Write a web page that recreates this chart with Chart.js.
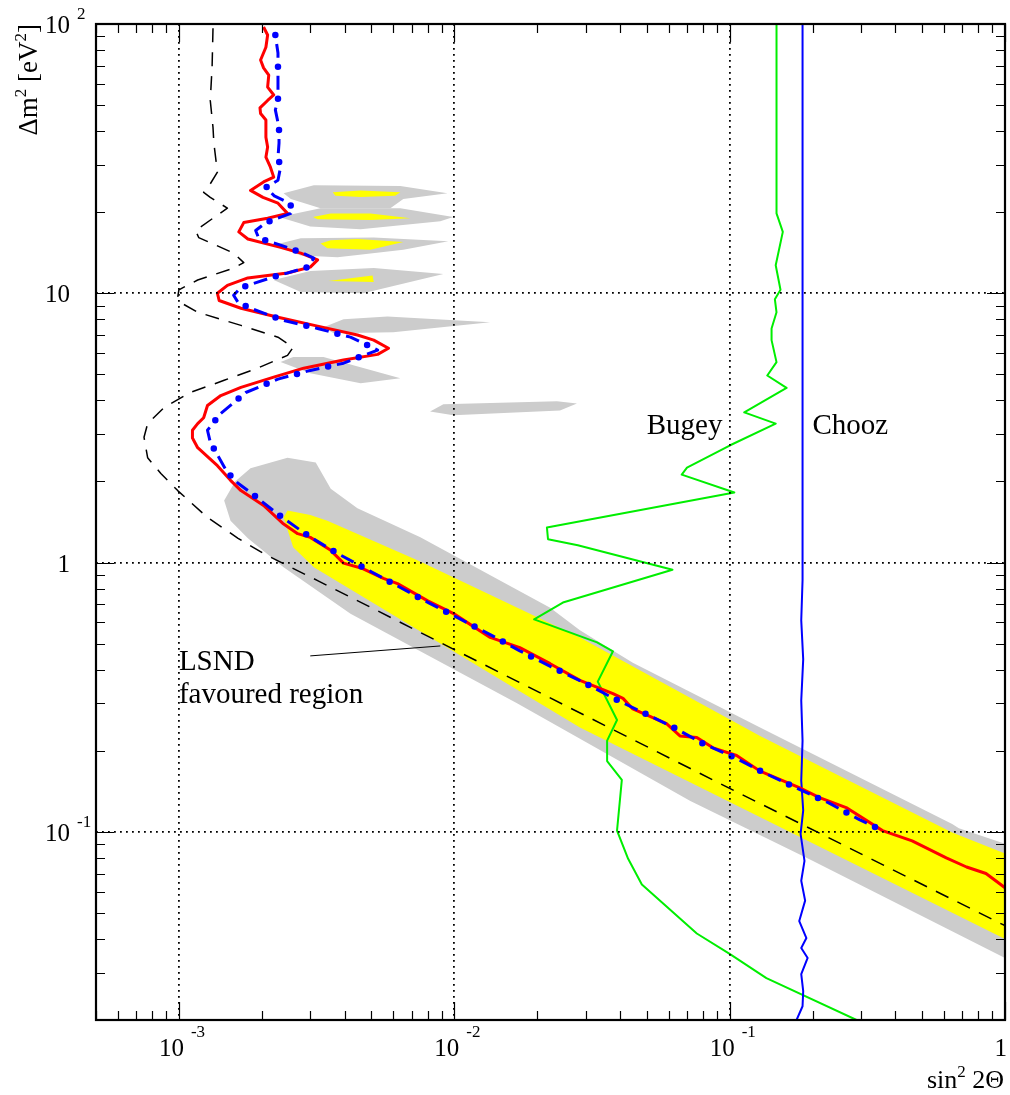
<!DOCTYPE html>
<html lang="en">
<head>
<meta charset="UTF-8">
<title>LSND favoured region vs Bugey / Chooz</title>
<script src="https://cdn.jsdelivr.net/npm/chart.js"></script>
<style>
  body { margin: 0; background: #fff; }
  canvas { display: block; }
</style>
</head>
<body>
<canvas id="plot" width="1010" height="1095"></canvas>
<script>
// [sin^2 2theta, dm^2 (eV^2)] pairs

// LSND favoured region, outer (grey) and inner (yellow) contours
const lsndOuter = [[1.46e-3,1.7],[1.6e-3,2.0],[1.82e-3,2.24],[2.48e-3,2.45],[3.14e-3,2.35],[3.56e-3,1.88],[4.45e-3,1.59],[7.53e-3,1.24],
  [2.23e-2,0.68],[2.86e-2,0.56],[4.45e-2,0.424],[0.129,0.244],[0.643,0.107],[0.68,0.103],[1.0,0.0903],[1.0,0.034],
  [0.2,0.078],[0.072,0.13],[1.69e-2,0.3],[4.2e-3,0.646],[2.4e-3,0.96],[1.78e-3,1.23],[1.54e-3,1.43]];
const lsndInner = [[2.48e-3,1.56],[3.0e-3,1.5],[3.46e-3,1.43],[7.35e-3,1.02],[2.86e-2,0.527],[0.129,0.227],[0.643,0.0995],
  [1.0,0.083],[1.0,0.04],[2.86e-2,0.244],[3.09e-3,0.96],[2.6e-3,1.14],[2.4e-3,1.47]];

// small islands at large dm^2
const islandsOuter = [
  [[2.4e-3,23.5],[3.09e-3,25.2],[6.37e-3,25],[9.45e-3,23.5],[6.53e-3,22.4],[5.86e-3,20.7],[3.27e-3,20.7],[2.55e-3,22.4]],
  [[2.31e-3,19.2],[3.27e-3,20.7],[6.37e-3,20.7],[9.92e-3,19.2],[8.9e-3,18.5],[4.57e-3,17.3],[3.0e-3,17.7]],
  [[2.21e-3,15.1],[2.77e-3,16.0],[5.1e-3,16.1],[9.52e-3,15.6],[6.53e-3,14.5],[3.77e-3,13.6],[2.77e-3,13.8]],
  [[2.21e-3,11.2],[3.0e-3,12.1],[5.1e-3,12.4],[9.13e-3,11.8],[4.67e-3,10.0],[2.77e-3,10.1]],
  [[3.35e-3,7.47],[3.96e-3,8.0],[5.72e-3,8.2],[1.35e-2,7.8],[6.0e-3,7.17],[3.65e-3,7.1]],
  [[2.34e-3,5.55],[2.6e-3,5.8],[3.35e-3,5.8],[6.37e-3,4.83],[4.57e-3,4.63],[3.0e-3,5.05]],
  [[8.17e-3,3.64],[9.13e-3,3.87],[2.36e-2,3.97],[2.79e-2,3.9],[2.42e-2,3.67],[9.92e-3,3.52]]
];
const islandsInner = [
  [[3.62e-3,23.7],[4.57e-3,24.1],[6.37e-3,23.7],[6.1e-3,23.0],[4.57e-3,22.8],[3.7e-3,23.0]],
  [[3.07e-3,19.2],[3.56e-3,19.8],[4.96e-3,19.8],[6.93e-3,19.0],[4.96e-3,18.7],[3.19e-3,18.85]],
  [[3.27e-3,15.3],[3.56e-3,15.75],[4.45e-3,15.9],[6.53e-3,15.5],[4.96e-3,14.5],[3.46e-3,14.7]],
  [[3.49e-3,11.1],[5.05e-3,11.65],[5.1e-3,11.0]]
];

// expected sensitivity (black dashed)
const sensitivity = [[1.33e-3,96.5],[1.32e-3,69.3],[1.3e-3,52],[1.33e-3,41.3],[1.34e-3,36],[1.38e-3,28.2],[1.27e-3,24.5],
  [1.23e-3,23.7],[1.3e-3,22.7],[1.5e-3,20.7],[1.33e-3,19],[1.15e-3,17.1],[1.18e-3,16.1],[1.42e-3,14.8],[1.58e-3,14.1],
  [1.72e-3,13.0],[1.58e-3,12.4],[1.17e-3,11.2],[1.0e-3,10.3],[0.99e-3,9.65],[1.03e-3,9.15],[1.17e-3,8.5],[1.68e-3,7.6],
  [2.29e-3,6.87],[2.6e-3,6.3],[2.48e-3,5.88],[1.93e-3,5.27],[1.46e-3,4.75],[1.1e-3,4.28],[8.85e-4,3.77],[7.7e-4,3.28],
  [7.47e-4,2.92],[7.7e-4,2.45],[8.6e-4,2.14],[9.9e-4,1.85],[1.27e-3,1.47],[1.64e-3,1.23],[2.03e-3,1.08],[2.55e-3,0.96],
  [3.19e-3,0.857],[1.0e-2,0.475],[0.1,0.145],[1.0,0.0448]];

// 90% CL limit (red solid)
const limitRed = [[2.03e-3,97.5],[2.1e-3,91],[2.07e-3,82],[1.98e-3,73.5],[2.03e-3,68.7],[2.12e-3,64.6],[2.1e-3,58.3],
  [2.21e-3,54.5],[2.1e-3,52],[1.97e-3,48.8],[1.98e-3,46.5],[2.07e-3,44],[2.07e-3,38],[2.1e-3,34.9],[2.07e-3,32],
  [2.15e-3,29.4],[2.21e-3,27],[2.03e-3,25.9],[1.82e-3,24.1],[2.02e-3,22.7],[2.29e-3,21.6],[2.48e-3,19.8],[2.1e-3,19],
  [1.72e-3,18.3],[1.65e-3,16.9],[1.78e-3,15.9],[2.34e-3,14.8],[2.77e-3,14.1],[3.19e-3,13.3],[3.0e-3,12.5],[2.48e-3,11.9],
  [1.78e-3,11.4],[1.5e-3,10.7],[1.38e-3,10],[1.4e-3,9.4],[1.68e-3,8.8],[2.29e-3,8.15],[3.19e-3,7.55],[4.45e-3,7.0],
  [5.1e-3,6.7],[5.77e-3,6.25],[5.27e-3,5.93],[3.96e-3,5.65],[2.84e-3,5.27],[2.21e-3,4.88],[1.68e-3,4.47],[1.42e-3,4.17],
  [1.27e-3,3.83],[1.23e-3,3.45],[1.17e-3,3.28],[1.12e-3,3.1],[1.12e-3,2.9],[1.17e-3,2.67],[1.38e-3,2.29],[1.54e-3,2.02],
  [1.68e-3,1.85],[2.03e-3,1.63],[2.38e-3,1.4],[2.7e-3,1.28],[3.0e-3,1.24],[3.56e-3,1.11],[3.96e-3,0.995],[4.65e-3,0.95],
  [5.53e-3,0.873],[6.22e-3,0.835],[7.98e-3,0.722],[9.95e-3,0.646],[1.35e-2,0.527],[1.73e-2,0.483],[2.23e-2,0.421],
  [2.86e-2,0.365],[3.77e-2,0.326],[4.1e-2,0.313],[4.45e-2,0.286],[5.9e-2,0.252],[6.6e-2,0.227],[7.6e-2,0.224],
  [8.7e-2,0.205],[0.106,0.192],[0.129,0.168],[0.179,0.146],[0.212,0.134],[0.265,0.123],[0.359,0.101],[0.46,0.0925],
  [0.612,0.08],[0.725,0.074],[0.853,0.07],[1.0,0.062]];

// second limit (blue dash-dot with dots)
const limitBlue = [[2.24e-3,91],[2.29e-3,78],[2.29e-3,62],[2.29e-3,52],[2.24e-3,48],[2.31e-3,41.3],[2.31e-3,36.1],
  [2.29e-3,32],[2.34e-3,29.4],[2.29e-3,26.3],[2.07e-3,24.7],[2.22e-3,23],[2.48e-3,21.8],[2.6e-3,20.7],[2.55e-3,19.8],
  [2.07e-3,18.3],[1.9e-3,17.1],[1.95e-3,16],[2.34e-3,15.1],[2.77e-3,14.2],[3.09e-3,13.5],[2.94e-3,12.5],[2.21e-3,11.5],
  [1.68e-3,10.5],[1.58e-3,9.83],[1.64e-3,9.25],[1.82e-3,8.8],[2.4e-3,7.93],[3.19e-3,7.4],[4.2e-3,6.87],[5.27e-3,6.15],
  [3.96e-3,5.5],[3.0e-3,5.17],[2.29e-3,4.8],[1.75e-3,4.28],[1.42e-3,3.58],[1.27e-3,3.1],[1.3e-3,2.8],[1.5e-3,2.16],
  [1.64e-3,1.97],[1.86e-3,1.79],[2.31e-3,1.5],[2.94e-3,1.26],[3.77e-3,1.08],[4.85e-3,0.94],[6.27e-3,0.815],[8.05e-3,0.71],
  [1.04e-2,0.62],[1.35e-2,0.54],[1.73e-2,0.47],[2.25e-2,0.41],[2.91e-2,0.361],[3.75e-2,0.315],[4.85e-2,0.277],
  [6.27e-2,0.244],[8.05e-2,0.212],[0.105,0.188],[0.136,0.164],[0.176,0.145],[0.229,0.128],[0.296,0.111],[0.359,0.101]];

// reactor experiments
const bugey = [[0.148,100],[0.148,19.8],[0.156,16.9],[0.147,12.7],[0.153,10.3],[0.146,9.5],[0.148,8.5],[0.142,7.4],
  [0.142,6.7],[0.148,5.55],[0.137,4.95],[0.161,4.45],[0.113,3.61],[0.147,3.28],[0.1,2.72],[7.0e-2,2.25],[6.7e-2,2.12],
  [0.104,1.82],[2.17e-2,1.35],[2.19e-2,1.22],[2.81e-2,1.16],[6.2e-2,0.94],[2.48e-2,0.71],[1.95e-2,0.615],[3.3e-2,0.505],
  [3.77e-2,0.468],[3.32e-2,0.361],[3.9e-2,0.26],[3.59e-2,0.218],[3.59e-2,0.183],[4.06e-2,0.156],[3.9e-2,0.101],
  [4.28e-2,0.0794],[4.8e-2,0.0637],[7.6e-2,0.0419],[0.1,0.0352],[0.136,0.0286],[0.289,0.02]];
const chooz = [[0.184,100],[0.184,0.86],[0.182,0.61],[0.185,0.437],[0.182,0.307],[0.184,0.218],[0.182,0.155],[0.185,0.12],
  [0.181,0.0983],[0.187,0.078],[0.182,0.0658],[0.188,0.0555],[0.179,0.0466],[0.19,0.0403],[0.182,0.037],[0.192,0.034],
  [0.182,0.0296],[0.185,0.0256],[0.184,0.0225],[0.175,0.02]];

// pointer from the "LSND favoured region" label
const lsndPointer = [[3.0e-3,0.45],[8.9e-3,0.49]];

// axes
const xRange = [5e-4, 1];
const yRange = [0.02, 100];
const xTickValues = [1e-3, 1e-2, 1e-1, 1];
const xTickBase = ['10', '10', '10', '1'];
const xTickExp = ['-3', '-2', '-1', ''];
const yTickValues = [0.1, 1, 10, 100];
const yTickBase = ['10', '1', '10', '10'];
const yTickExp = ['-1', '', '', '2'];

// text labels [text, x, y] in data coordinates (left / baseline)
const annotations = [['Bugey', 0.05, 3.0], ['Chooz', 0.2, 3.0], ['LSND', 1.0e-3, 0.4], ['favoured region', 1.0e-3, 0.3]];

const GREY = '#cccccc';
const YELLOW = '#ffff00';
const SERIF = '"Liberation Serif", "Times New Roman", serif';

const toXY = pts => pts.map(p => ({x: p[0], y: p[1]}));

function region(points, colour, order) {
  return {
    data: toXY(points), backgroundColor: colour, borderColor: 'rgba(0,0,0,0)', borderWidth: 1,
    fill: 'shape', pointRadius: 0, order: order
  };
}

function curve(points, colour, width, order, extra) {
  return Object.assign({
    data: toXY(points), borderColor: colour, borderWidth: width, fill: false,
    pointRadius: 0, borderJoinStyle: 'round', order: order
  }, extra || {});
}

const datasets = [
  region(lsndOuter, GREY, 100),
  ...islandsOuter.map(p => region(p, GREY, 99)),
  region(lsndInner, YELLOW, 98),
  ...islandsInner.map(p => region(p, YELLOW, 97)),
  curve(sensitivity, '#000000', 1.5, 50, {borderDash: [14, 10]}),
  curve(bugey, '#00ee00', 2, 40),
  curve(chooz, '#0000ff', 2, 30),
  curve(limitRed, '#ff0000', 3, 20),
  curve(limitBlue, '#0000ff', 3, 10, {borderDash: [14, 18], borderDashOffset: 23}),
  curve(limitBlue, '#0000ff', 6.5, 9, {borderDash: [0, 32], borderCapStyle: 'round'}),
  curve(lsndPointer, '#000000', 1, 5)
];

function decadeGrid(values) {
  return function (scale) {
    scale.ticks = values.map(v => ({value: v}));
  };
}

const dotted = { color: '#000000', lineWidth: 1.8, z: 1, drawTicks: false };
const dottedBorder = { display: false, dash: [1.8, 4.2] };

const framePlugin = {
  id: 'frame',
  afterDraw(chart) {
    const ctx = chart.ctx;
    const a = chart.chartArea;
    const sx = chart.scales.x, sy = chart.scales.y;
    ctx.save();

    // tick marks on all four sides, pointing inwards
    ctx.strokeStyle = '#000';
    ctx.lineWidth = 1.2;
    ctx.beginPath();
    for (let d = -4; d <= 0; d++) {
      for (let m = 1; m <= 9; m++) {
        const v = m * Math.pow(10, d);
        if (v < xRange[0] * 0.999 || v > xRange[1] * 1.001) continue;
        const px = Math.round(sx.getPixelForValue(v)) + 0.5;
        const len = m === 1 ? 18 : 9;
        ctx.moveTo(px, a.bottom); ctx.lineTo(px, a.bottom - len);
        ctx.moveTo(px, a.top); ctx.lineTo(px, a.top + len);
      }
    }
    for (let d = -2; d <= 2; d++) {
      for (let m = 1; m <= 9; m++) {
        const v = m * Math.pow(10, d);
        if (v < yRange[0] * 0.999 || v > yRange[1] * 1.001) continue;
        const py = Math.round(sy.getPixelForValue(v)) + 0.5;
        const len = m === 1 ? 18 : 9;
        ctx.moveTo(a.left, py); ctx.lineTo(a.left + len, py);
        ctx.moveTo(a.right, py); ctx.lineTo(a.right - len, py);
      }
    }
    ctx.stroke();

    ctx.lineWidth = 2.2;
    ctx.strokeRect(a.left, a.top, a.right - a.left, a.bottom - a.top);

    ctx.fillStyle = '#000';
    ctx.textBaseline = 'alphabetic';

    // x tick labels
    xTickValues.forEach((v, i) => {
      const px = sx.getPixelForValue(v);
      ctx.font = '25px ' + SERIF;
      if (xTickExp[i]) {
        ctx.textAlign = 'right';
        ctx.fillText(xTickBase[i], px + 5, a.bottom + 36);
        ctx.font = '17px ' + SERIF;
        ctx.textAlign = 'left';
        ctx.fillText(xTickExp[i], px + 12, a.bottom + 17);
      } else {
        ctx.textAlign = 'right';
        ctx.fillText(xTickBase[i], px + 2, a.bottom + 36);
      }
    });

    // y tick labels
    yTickValues.forEach((v, i) => {
      const py = sy.getPixelForValue(v);
      ctx.font = '25px ' + SERIF;
      ctx.textAlign = 'right';
      ctx.fillText(yTickBase[i], 70, py + 9);
      if (yTickExp[i]) {
        ctx.font = '17px ' + SERIF;
        ctx.textAlign = 'left';
        ctx.fillText(yTickExp[i], 77, py - 5);
      }
    });

    // x axis title: sin^2 2Theta
    const xt = [['sin', 26, 0], ['2', 17, 11], [' 2\u0398', 26, 0]];
    drawPieces(ctx, xt, a.right - 1, a.bottom + 68);

    // y axis title, rotated
    ctx.save();
    ctx.translate(37, a.top);
    ctx.rotate(-Math.PI / 2);
    const yt = [['\u0394m', 27, 0], ['2', 17, 11], [' [eV', 27, 0], ['2', 17, 11], [']', 27, 0]];
    drawPieces(ctx, yt, 0, 0);
    ctx.restore();

    // annotations
    ctx.font = '29px ' + SERIF;
    ctx.textAlign = 'left';
    annotations.forEach(t => {
      ctx.fillText(t[0], sx.getPixelForValue(t[1]), sy.getPixelForValue(t[2]));
    });

    ctx.restore();
  }
};

// right-aligned run of text pieces [text, size, rise] ending at (xEnd, baseline)
function drawPieces(ctx, pieces, xEnd, baseline) {
  let total = 0;
  const widths = pieces.map(p => {
    ctx.font = p[1] + 'px ' + SERIF;
    const w = ctx.measureText(p[0]).width;
    total += w;
    return w;
  });
  let x = xEnd - total;
  ctx.textAlign = 'left';
  pieces.forEach((p, i) => {
    ctx.font = p[1] + 'px ' + SERIF;
    ctx.fillText(p[0], x, baseline - p[2]);
    x += widths[i];
  });
}

new Chart(document.getElementById('plot'), {
  type: 'line',
  data: { datasets: datasets },
  options: {
    responsive: false,
    devicePixelRatio: 1,
    animation: false,
    events: [],
    layout: { padding: { left: 96, right: 5, top: 24, bottom: 75 } },
    plugins: { legend: { display: false }, tooltip: { enabled: false } },
    scales: {
      x: {
        type: 'logarithmic', min: xRange[0], max: xRange[1], bounds: 'data',
        afterBuildTicks: decadeGrid(xTickValues.slice(0, 3)),
        ticks: { display: false },
        grid: dotted,
        border: dottedBorder
      },
      y: {
        type: 'logarithmic', min: yRange[0], max: yRange[1], bounds: 'data',
        afterBuildTicks: decadeGrid(yTickValues.slice(0, 3)),
        ticks: { display: false },
        grid: dotted,
        border: dottedBorder
      }
    }
  },
  plugins: [framePlugin]
});
</script>
</body>
</html>
